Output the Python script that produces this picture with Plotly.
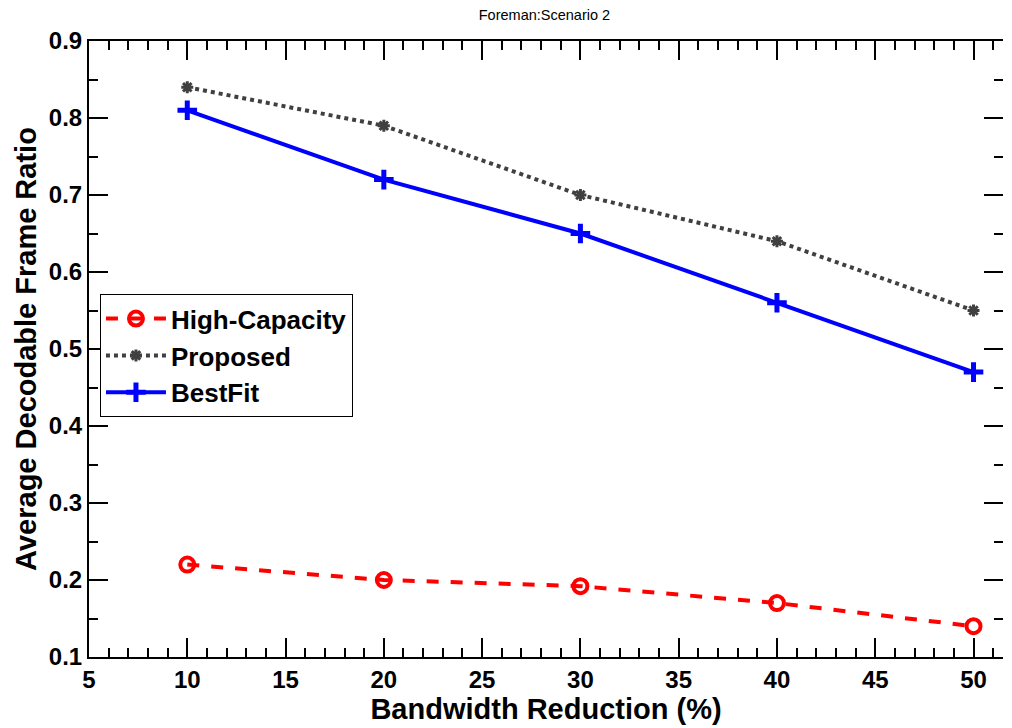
import plotly.graph_objects as go

# Bandwidth reduction levels (%)
bandwidth = [10, 20, 30, 40, 50]

# Average decodable frame ratio per scheme
high_capacity = [0.22, 0.20, 0.192, 0.17, 0.14]
proposed = [0.84, 0.79, 0.70, 0.64, 0.55]
bestfit = [0.81, 0.72, 0.65, 0.56, 0.47]

x_ticks = [5, 10, 15, 20, 25, 30, 35, 40, 45, 50]
y_ticks = [0.1, 0.2, 0.3, 0.4, 0.5, 0.6, 0.7, 0.8, 0.9]

FONT = "Liberation Sans, Arial, sans-serif"

fig = go.Figure()

fig.add_trace(go.Scatter(
    x=bandwidth, y=high_capacity, name="High-Capacity",
    mode="lines+markers",
    line=dict(color="#ff0000", width=4, dash="dash"),
    marker=dict(symbol="circle-open", size=14, color="#ff0000",
                line=dict(width=4, color="#ff0000")),
))
fig.add_trace(go.Scatter(
    x=bandwidth, y=proposed, name="Proposed",
    mode="lines+markers",
    line=dict(color="#404040", width=4, dash="dot"),
    marker=dict(symbol="asterisk-open", size=10, color="#404040",
                line=dict(width=3, color="#404040")),
))
fig.add_trace(go.Scatter(
    x=bandwidth, y=bestfit, name="BestFit",
    mode="lines+markers",
    line=dict(color="#0000ff", width=4),
    marker=dict(symbol="cross-thin-open", size=14, color="#0000ff",
                line=dict(width=5, color="#0000ff")),
))

# Invisible trace so the mirrored top/right axes get drawn
fig.add_trace(go.Scatter(
    x=[bandwidth[0]], y=[proposed[0]], xaxis="x2", yaxis="y2",
    mode="markers", marker=dict(opacity=0), showlegend=False,
    hoverinfo="skip",
))

tick_font = dict(family=FONT, size=24, color="black", weight="bold")
title_font = dict(family=FONT, size=29, color="black", weight="bold")

fig.update_layout(
    width=1012, height=728,
    margin=dict(l=89, r=9, t=41, b=71),
    paper_bgcolor="white", plot_bgcolor="white",
    title=dict(text="Foreman:Scenario 2", x=0.538, xanchor="center",
               y=0.98, yanchor="middle",
               font=dict(family=FONT, size=14.5, color="black")),
    xaxis=dict(
        range=[5, 51.5], tickvals=x_ticks, showgrid=False, zeroline=False,
        showline=True, linecolor="black", linewidth=2,
        ticks="inside", ticklen=19, tickwidth=1.5, tickcolor="black",
        minor=dict(dtick=1, ticks="inside", ticklen=9, tickwidth=1.5,
                   tickcolor="black", showgrid=False),
        tickfont=tick_font,
        title=dict(text="Bandwidth Reduction (%)", standoff=4, font=title_font),
    ),
    yaxis=dict(
        range=[0.1, 0.9], tickvals=y_ticks, tickformat=".1f",
        showgrid=False, zeroline=False,
        showline=True, linecolor="black", linewidth=2,
        ticks="inside", ticklen=19, tickwidth=1.5, tickcolor="black",
        minor=dict(dtick=0.05, ticks="inside", ticklen=9, tickwidth=1.5,
                   tickcolor="black", showgrid=False),
        tickfont=tick_font,
        title=dict(text="Average Decodable Frame Ratio", standoff=4,
                   font=title_font),
    ),
    xaxis2=dict(
        overlaying="x", side="top", matches="x", tickvals=x_ticks,
        showticklabels=False, showgrid=False, zeroline=False,
        showline=True, linecolor="black", linewidth=2,
        ticks="inside", ticklen=19, tickwidth=1.5, tickcolor="black",
        minor=dict(dtick=1, ticks="inside", ticklen=9, tickwidth=1.5,
                   tickcolor="black", showgrid=False),
    ),
    yaxis2=dict(
        overlaying="y", side="right", matches="y", tickvals=y_ticks,
        showticklabels=False, showgrid=False, zeroline=False,
        showline=False,
        ticks="inside", ticklen=19, tickwidth=1.5, tickcolor="black",
        minor=dict(dtick=0.05, ticks="inside", ticklen=9, tickwidth=1.5,
                   tickcolor="black", showgrid=False),
    ),
    legend=dict(
        x=0.012, y=0.589, xanchor="left", yanchor="top",
        bgcolor="white", bordercolor="black", borderwidth=1,
        font=dict(family=FONT, size=26, color="black", weight="bold"),
        itemwidth=60, tracegroupgap=0,
    ),
    showlegend=True,
)

fig.write_html("out.html")
